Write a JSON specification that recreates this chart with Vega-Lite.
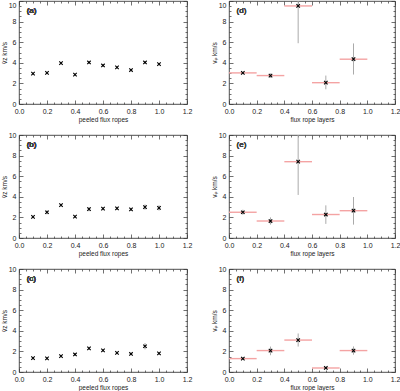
{
  "$schema": "https://vega.github.io/schema/vega-lite/v6.json",
  "padding": {"top": 0, "left": 0, "right": 0, "bottom": 0},
  "bounds": "flush",
  "columns": 2,
  "spacing": {"row": 31, "column": 42},
  "datasets": {
    "a": [
      {"x": 0.1, "y": 2.95, "lo": 2.85, "hi": 3.05},
      {"x": 0.2, "y": 3.02, "lo": 2.92, "hi": 3.12},
      {"x": 0.3, "y": 3.97, "lo": 3.87, "hi": 4.07},
      {"x": 0.4, "y": 2.86, "lo": 2.76, "hi": 2.96},
      {"x": 0.5, "y": 4.03, "lo": 3.93, "hi": 4.13},
      {"x": 0.6, "y": 3.74, "lo": 3.64, "hi": 3.84},
      {"x": 0.7, "y": 3.55, "lo": 3.45, "hi": 3.65},
      {"x": 0.8, "y": 3.3, "lo": 3.2, "hi": 3.4},
      {"x": 0.9, "y": 4.03, "lo": 3.93, "hi": 4.13},
      {"x": 1.0, "y": 3.88, "lo": 3.78, "hi": 3.98}
    ],
    "b": [
      {"x": 0.1, "y": 2.05, "lo": 1.95, "hi": 2.15},
      {"x": 0.2, "y": 2.5, "lo": 2.3, "hi": 2.7},
      {"x": 0.3, "y": 3.2, "lo": 3.08, "hi": 3.32},
      {"x": 0.4, "y": 2.08, "lo": 1.98, "hi": 2.18},
      {"x": 0.5, "y": 2.8, "lo": 2.6, "hi": 3.0},
      {"x": 0.6, "y": 2.85, "lo": 2.7, "hi": 3.0},
      {"x": 0.7, "y": 2.88, "lo": 2.73, "hi": 3.03},
      {"x": 0.8, "y": 2.78, "lo": 2.63, "hi": 2.93},
      {"x": 0.9, "y": 3.0, "lo": 2.75, "hi": 3.25},
      {"x": 1.0, "y": 2.92, "lo": 2.67, "hi": 3.17}
    ],
    "c": [
      {"x": 0.1, "y": 1.35, "lo": 1.25, "hi": 1.45},
      {"x": 0.2, "y": 1.33, "lo": 1.23, "hi": 1.43},
      {"x": 0.3, "y": 1.55, "lo": 1.45, "hi": 1.65},
      {"x": 0.4, "y": 1.7, "lo": 1.58, "hi": 1.82},
      {"x": 0.5, "y": 2.3, "lo": 2.15, "hi": 2.45},
      {"x": 0.6, "y": 2.1, "lo": 1.98, "hi": 2.22},
      {"x": 0.7, "y": 1.85, "lo": 1.75, "hi": 1.95},
      {"x": 0.8, "y": 1.75, "lo": 1.65, "hi": 1.85},
      {"x": 0.9, "y": 2.5, "lo": 2.2, "hi": 2.8},
      {"x": 1.0, "y": 1.8, "lo": 1.7, "hi": 1.9}
    ],
    "d": [
      {"x": 0.1, "y": 3.02, "lo": 2.92, "hi": 3.12, "xlo": 0.0, "xhi": 0.2},
      {"x": 0.3, "y": 2.76, "lo": 2.55, "hi": 2.97, "xlo": 0.2, "xhi": 0.4},
      {"x": 0.5, "y": 9.52, "lo": 5.9, "hi": 10.0, "xlo": 0.4, "xhi": 0.6},
      {"x": 0.7, "y": 2.07, "lo": 1.43, "hi": 2.76, "xlo": 0.6, "xhi": 0.8},
      {"x": 0.9, "y": 4.35, "lo": 2.86, "hi": 5.88, "xlo": 0.8, "xhi": 1.0}
    ],
    "e": [
      {"x": 0.1, "y": 2.5, "lo": 2.25, "hi": 2.75, "xlo": 0.0, "xhi": 0.2},
      {"x": 0.3, "y": 1.65, "lo": 1.3, "hi": 2.0, "xlo": 0.2, "xhi": 0.4},
      {"x": 0.5, "y": 7.41, "lo": 4.18, "hi": 10.0, "xlo": 0.4, "xhi": 0.6},
      {"x": 0.7, "y": 2.28, "lo": 1.37, "hi": 3.17, "xlo": 0.6, "xhi": 0.8},
      {"x": 0.9, "y": 2.65, "lo": 1.3, "hi": 3.98, "xlo": 0.8, "xhi": 1.0}
    ],
    "f": [
      {"x": 0.1, "y": 1.3, "lo": 1.2, "hi": 1.4, "xlo": 0.0, "xhi": 0.2},
      {"x": 0.3, "y": 2.08, "lo": 1.63, "hi": 2.47, "xlo": 0.2, "xhi": 0.4},
      {"x": 0.5, "y": 3.1, "lo": 2.47, "hi": 3.74, "xlo": 0.4, "xhi": 0.6},
      {"x": 0.7, "y": 0.39, "lo": 0.3, "hi": 0.48, "xlo": 0.6, "xhi": 0.8},
      {"x": 0.9, "y": 2.08, "lo": 1.68, "hi": 2.48, "xlo": 0.8, "xhi": 1.0}
    ]
  },
  "concat": [
    {
      "width": 168, "height": 103,
      "data": {"name": "a"},
      "layer": [
        {"mark": {"type": "rule", "color": "#999999", "strokeWidth": 1}, "encoding": {"x": {"field": "x", "type": "quantitative", "scale": {"domain": [0, 1.2], "nice": false, "zero": false}, "axis": null}, "y": {"field": "lo", "type": "quantitative", "scale": {"domain": [0, 10], "nice": false}, "axis": null}, "y2": {"field": "hi"}}},
        {"mark": {"type": "point", "shape": "M-1,-1L1,1M-1,1L1,-1", "filled": false, "stroke": "#000000", "strokeWidth": 1.1, "size": 12, "opacity": 1}, "encoding": {
          "x": {"field": "x", "type": "quantitative", "axis": {"orient": "bottom", "values": [0,0.05,0.1,0.15,0.2,0.25,0.3,0.35,0.4,0.45,0.5,0.55,0.6,0.65,0.7,0.75,0.8,0.85,0.9,0.95,1.0,1.05,1.1,1.15,1.2], "tickSize": {"condition": {"test": "abs(datum.value*5-round(datum.value*5))<0.001", "value": -4}, "value": -2}, "labelExpr": "abs(datum.value*5-round(datum.value*5))<0.001 ? format(datum.value,'.1f') : ''", "title": "peeled flux ropes", "titlePadding": 0, "labelPadding": 7}},
          "y": {"field": "y", "type": "quantitative", "axis": {"orient": "left", "values": [0,0.5,1,1.5,2,2.5,3,3.5,4,4.5,5,5.5,6,6.5,7,7.5,8,8.5,9,9.5,10], "tickSize": {"condition": {"test": "datum.value%2==0", "value": -4}, "value": -2}, "labelExpr": "datum.value%2==0 ? format(datum.value,'d') : ''", "labelBaseline": {"condition": {"test": "datum.value==10", "value": "top"}, "value": "middle"}, "title": "v̄z km/s", "titlePadding": 1, "labelPadding": 7}}}},
        {"mark": {"type": "point", "opacity": 0}, "encoding": {
          "x": {"field": "x", "type": "quantitative", "axis": {"orient": "top", "values": [0,0.05,0.1,0.15,0.2,0.25,0.3,0.35,0.4,0.45,0.5,0.55,0.6,0.65,0.7,0.75,0.8,0.85,0.9,0.95,1.0,1.05,1.1,1.15,1.2], "tickSize": {"condition": {"test": "abs(datum.value*5-round(datum.value*5))<0.001", "value": -4}, "value": -2}, "labels": false, "title": null}},
          "y": {"field": "y", "type": "quantitative", "axis": {"orient": "right", "values": [0,0.5,1,1.5,2,2.5,3,3.5,4,4.5,5,5.5,6,6.5,7,7.5,8,8.5,9,9.5,10], "tickSize": {"condition": {"test": "datum.value%2==0", "value": -4}, "value": -2}, "labels": false, "title": null}}}},
        {"mark": {"type": "text", "align": "left", "baseline": "middle", "fontSize": 8, "color": "#444444"}, "encoding": {"x": {"datum": 0.055, "type": "quantitative", "axis": null}, "y": {"datum": 9.0, "type": "quantitative", "axis": null}, "text": {"value": "(a)"}}}
      ],
      "resolve": {"axis": {"x": "independent", "y": "independent"}}
    },
    {
      "width": 166, "height": 103,
      "data": {"name": "d"},
      "layer": [
        {"mark": {"type": "rule", "color": "#aaaaaa", "strokeWidth": 1}, "encoding": {"x": {"field": "x", "type": "quantitative", "scale": {"domain": [0, 1.2], "nice": false, "zero": false}, "axis": null}, "y": {"field": "lo", "type": "quantitative", "scale": {"domain": [0, 10], "nice": false}, "axis": null}, "y2": {"field": "hi"}}},
        {"mark": {"type": "rule", "color": "#f4a3a3", "strokeWidth": 1.4}, "encoding": {"x": {"field": "xlo", "type": "quantitative", "axis": null}, "x2": {"field": "xhi"}, "y": {"field": "y", "type": "quantitative", "axis": null}}},
        {"mark": {"type": "point", "shape": "M-1,-1L1,1M-1,1L1,-1", "filled": false, "stroke": "#000000", "strokeWidth": 1.1, "size": 12, "opacity": 1}, "encoding": {
          "x": {"field": "x", "type": "quantitative", "axis": {"orient": "bottom", "values": [0,0.05,0.1,0.15,0.2,0.25,0.3,0.35,0.4,0.45,0.5,0.55,0.6,0.65,0.7,0.75,0.8,0.85,0.9,0.95,1.0,1.05,1.1,1.15,1.2], "tickSize": {"condition": {"test": "abs(datum.value*5-round(datum.value*5))<0.001", "value": -4}, "value": -2}, "labelExpr": "abs(datum.value*5-round(datum.value*5))<0.001 ? format(datum.value,'.1f') : ''", "title": "flux rope layers", "titlePadding": 0, "labelPadding": 7}},
          "y": {"field": "y", "type": "quantitative", "axis": {"orient": "left", "values": [0,0.5,1,1.5,2,2.5,3,3.5,4,4.5,5,5.5,6,6.5,7,7.5,8,8.5,9,9.5,10], "tickSize": {"condition": {"test": "datum.value%2==0", "value": -4}, "value": -2}, "labelExpr": "datum.value%2==0 ? format(datum.value,'d') : ''", "labelBaseline": {"condition": {"test": "datum.value==10", "value": "top"}, "value": "middle"}, "title": "vᵩ km/s", "titlePadding": 1, "labelPadding": 7}}}},
        {"mark": {"type": "point", "opacity": 0}, "encoding": {
          "x": {"field": "x", "type": "quantitative", "axis": {"orient": "top", "values": [0,0.05,0.1,0.15,0.2,0.25,0.3,0.35,0.4,0.45,0.5,0.55,0.6,0.65,0.7,0.75,0.8,0.85,0.9,0.95,1.0,1.05,1.1,1.15,1.2], "tickSize": {"condition": {"test": "abs(datum.value*5-round(datum.value*5))<0.001", "value": -4}, "value": -2}, "labels": false, "title": null}},
          "y": {"field": "y", "type": "quantitative", "axis": {"orient": "right", "values": [0,0.5,1,1.5,2,2.5,3,3.5,4,4.5,5,5.5,6,6.5,7,7.5,8,8.5,9,9.5,10], "tickSize": {"condition": {"test": "datum.value%2==0", "value": -4}, "value": -2}, "labels": false, "title": null}}}},
        {"mark": {"type": "text", "align": "left", "baseline": "middle", "fontSize": 8, "color": "#444444"}, "encoding": {"x": {"datum": 0.055, "type": "quantitative", "axis": null}, "y": {"datum": 9.0, "type": "quantitative", "axis": null}, "text": {"value": "(d)"}}}
      ],
      "resolve": {"axis": {"x": "independent", "y": "independent"}}
    },
    {
      "width": 168, "height": 103,
      "data": {"name": "b"},
      "layer": [
        {"mark": {"type": "rule", "color": "#999999", "strokeWidth": 1}, "encoding": {"x": {"field": "x", "type": "quantitative", "scale": {"domain": [0, 1.2], "nice": false, "zero": false}, "axis": null}, "y": {"field": "lo", "type": "quantitative", "scale": {"domain": [0, 10], "nice": false}, "axis": null}, "y2": {"field": "hi"}}},
        {"mark": {"type": "point", "shape": "M-1,-1L1,1M-1,1L1,-1", "filled": false, "stroke": "#000000", "strokeWidth": 1.1, "size": 12, "opacity": 1}, "encoding": {
          "x": {"field": "x", "type": "quantitative", "axis": {"orient": "bottom", "values": [0,0.05,0.1,0.15,0.2,0.25,0.3,0.35,0.4,0.45,0.5,0.55,0.6,0.65,0.7,0.75,0.8,0.85,0.9,0.95,1.0,1.05,1.1,1.15,1.2], "tickSize": {"condition": {"test": "abs(datum.value*5-round(datum.value*5))<0.001", "value": -4}, "value": -2}, "labelExpr": "abs(datum.value*5-round(datum.value*5))<0.001 ? format(datum.value,'.1f') : ''", "title": "peeled flux ropes", "titlePadding": 0, "labelPadding": 7}},
          "y": {"field": "y", "type": "quantitative", "axis": {"orient": "left", "values": [0,0.5,1,1.5,2,2.5,3,3.5,4,4.5,5,5.5,6,6.5,7,7.5,8,8.5,9,9.5,10], "tickSize": {"condition": {"test": "datum.value%2==0", "value": -4}, "value": -2}, "labelExpr": "datum.value%2==0 ? format(datum.value,'d') : ''", "title": "v̄z km/s", "titlePadding": 1, "labelPadding": 7}}}},
        {"mark": {"type": "point", "opacity": 0}, "encoding": {
          "x": {"field": "x", "type": "quantitative", "axis": {"orient": "top", "values": [0,0.05,0.1,0.15,0.2,0.25,0.3,0.35,0.4,0.45,0.5,0.55,0.6,0.65,0.7,0.75,0.8,0.85,0.9,0.95,1.0,1.05,1.1,1.15,1.2], "tickSize": {"condition": {"test": "abs(datum.value*5-round(datum.value*5))<0.001", "value": -4}, "value": -2}, "labels": false, "title": null}},
          "y": {"field": "y", "type": "quantitative", "axis": {"orient": "right", "values": [0,0.5,1,1.5,2,2.5,3,3.5,4,4.5,5,5.5,6,6.5,7,7.5,8,8.5,9,9.5,10], "tickSize": {"condition": {"test": "datum.value%2==0", "value": -4}, "value": -2}, "labels": false, "title": null}}}},
        {"mark": {"type": "text", "align": "left", "baseline": "middle", "fontSize": 8, "color": "#444444"}, "encoding": {"x": {"datum": 0.055, "type": "quantitative", "axis": null}, "y": {"datum": 9.0, "type": "quantitative", "axis": null}, "text": {"value": "(b)"}}}
      ],
      "resolve": {"axis": {"x": "independent", "y": "independent"}}
    },
    {
      "width": 166, "height": 103,
      "data": {"name": "e"},
      "layer": [
        {"mark": {"type": "rule", "color": "#aaaaaa", "strokeWidth": 1}, "encoding": {"x": {"field": "x", "type": "quantitative", "scale": {"domain": [0, 1.2], "nice": false, "zero": false}, "axis": null}, "y": {"field": "lo", "type": "quantitative", "scale": {"domain": [0, 10], "nice": false}, "axis": null}, "y2": {"field": "hi"}}},
        {"mark": {"type": "rule", "color": "#f4a3a3", "strokeWidth": 1.4}, "encoding": {"x": {"field": "xlo", "type": "quantitative", "axis": null}, "x2": {"field": "xhi"}, "y": {"field": "y", "type": "quantitative", "axis": null}}},
        {"mark": {"type": "point", "shape": "M-1,-1L1,1M-1,1L1,-1", "filled": false, "stroke": "#000000", "strokeWidth": 1.1, "size": 12, "opacity": 1}, "encoding": {
          "x": {"field": "x", "type": "quantitative", "axis": {"orient": "bottom", "values": [0,0.05,0.1,0.15,0.2,0.25,0.3,0.35,0.4,0.45,0.5,0.55,0.6,0.65,0.7,0.75,0.8,0.85,0.9,0.95,1.0,1.05,1.1,1.15,1.2], "tickSize": {"condition": {"test": "abs(datum.value*5-round(datum.value*5))<0.001", "value": -4}, "value": -2}, "labelExpr": "abs(datum.value*5-round(datum.value*5))<0.001 ? format(datum.value,'.1f') : ''", "title": "flux rope layers", "titlePadding": 0, "labelPadding": 7}},
          "y": {"field": "y", "type": "quantitative", "axis": {"orient": "left", "values": [0,0.5,1,1.5,2,2.5,3,3.5,4,4.5,5,5.5,6,6.5,7,7.5,8,8.5,9,9.5,10], "tickSize": {"condition": {"test": "datum.value%2==0", "value": -4}, "value": -2}, "labelExpr": "datum.value%2==0 ? format(datum.value,'d') : ''", "title": "vᵩ km/s", "titlePadding": 1, "labelPadding": 7}}}},
        {"mark": {"type": "point", "opacity": 0}, "encoding": {
          "x": {"field": "x", "type": "quantitative", "axis": {"orient": "top", "values": [0,0.05,0.1,0.15,0.2,0.25,0.3,0.35,0.4,0.45,0.5,0.55,0.6,0.65,0.7,0.75,0.8,0.85,0.9,0.95,1.0,1.05,1.1,1.15,1.2], "tickSize": {"condition": {"test": "abs(datum.value*5-round(datum.value*5))<0.001", "value": -4}, "value": -2}, "labels": false, "title": null}},
          "y": {"field": "y", "type": "quantitative", "axis": {"orient": "right", "values": [0,0.5,1,1.5,2,2.5,3,3.5,4,4.5,5,5.5,6,6.5,7,7.5,8,8.5,9,9.5,10], "tickSize": {"condition": {"test": "datum.value%2==0", "value": -4}, "value": -2}, "labels": false, "title": null}}}},
        {"mark": {"type": "text", "align": "left", "baseline": "middle", "fontSize": 8, "color": "#444444"}, "encoding": {"x": {"datum": 0.055, "type": "quantitative", "axis": null}, "y": {"datum": 9.0, "type": "quantitative", "axis": null}, "text": {"value": "(e)"}}}
      ],
      "resolve": {"axis": {"x": "independent", "y": "independent"}}
    },
    {
      "width": 168, "height": 103,
      "data": {"name": "c"},
      "layer": [
        {"mark": {"type": "rule", "color": "#999999", "strokeWidth": 1}, "encoding": {"x": {"field": "x", "type": "quantitative", "scale": {"domain": [0, 1.2], "nice": false, "zero": false}, "axis": null}, "y": {"field": "lo", "type": "quantitative", "scale": {"domain": [0, 10], "nice": false}, "axis": null}, "y2": {"field": "hi"}}},
        {"mark": {"type": "point", "shape": "M-1,-1L1,1M-1,1L1,-1", "filled": false, "stroke": "#000000", "strokeWidth": 1.1, "size": 12, "opacity": 1}, "encoding": {
          "x": {"field": "x", "type": "quantitative", "axis": {"orient": "bottom", "values": [0,0.05,0.1,0.15,0.2,0.25,0.3,0.35,0.4,0.45,0.5,0.55,0.6,0.65,0.7,0.75,0.8,0.85,0.9,0.95,1.0,1.05,1.1,1.15,1.2], "tickSize": {"condition": {"test": "abs(datum.value*5-round(datum.value*5))<0.001", "value": -4}, "value": -2}, "labelExpr": "abs(datum.value*5-round(datum.value*5))<0.001 ? format(datum.value,'.1f') : ''", "title": "peeled flux ropes", "titlePadding": 0, "labelPadding": 7}},
          "y": {"field": "y", "type": "quantitative", "axis": {"orient": "left", "values": [0,0.5,1,1.5,2,2.5,3,3.5,4,4.5,5,5.5,6,6.5,7,7.5,8,8.5,9,9.5,10], "tickSize": {"condition": {"test": "datum.value%2==0", "value": -4}, "value": -2}, "labelExpr": "datum.value%2==0 ? format(datum.value,'d') : ''", "title": "v̄z km/s", "titlePadding": 1, "labelPadding": 7}}}},
        {"mark": {"type": "point", "opacity": 0}, "encoding": {
          "x": {"field": "x", "type": "quantitative", "axis": {"orient": "top", "values": [0,0.05,0.1,0.15,0.2,0.25,0.3,0.35,0.4,0.45,0.5,0.55,0.6,0.65,0.7,0.75,0.8,0.85,0.9,0.95,1.0,1.05,1.1,1.15,1.2], "tickSize": {"condition": {"test": "abs(datum.value*5-round(datum.value*5))<0.001", "value": -4}, "value": -2}, "labels": false, "title": null}},
          "y": {"field": "y", "type": "quantitative", "axis": {"orient": "right", "values": [0,0.5,1,1.5,2,2.5,3,3.5,4,4.5,5,5.5,6,6.5,7,7.5,8,8.5,9,9.5,10], "tickSize": {"condition": {"test": "datum.value%2==0", "value": -4}, "value": -2}, "labels": false, "title": null}}}},
        {"mark": {"type": "text", "align": "left", "baseline": "middle", "fontSize": 8, "color": "#444444"}, "encoding": {"x": {"datum": 0.055, "type": "quantitative", "axis": null}, "y": {"datum": 9.0, "type": "quantitative", "axis": null}, "text": {"value": "(c)"}}}
      ],
      "resolve": {"axis": {"x": "independent", "y": "independent"}}
    },
    {
      "width": 166, "height": 103,
      "data": {"name": "f"},
      "layer": [
        {"mark": {"type": "rule", "color": "#aaaaaa", "strokeWidth": 1}, "encoding": {"x": {"field": "x", "type": "quantitative", "scale": {"domain": [0, 1.2], "nice": false, "zero": false}, "axis": null}, "y": {"field": "lo", "type": "quantitative", "scale": {"domain": [0, 10], "nice": false}, "axis": null}, "y2": {"field": "hi"}}},
        {"mark": {"type": "rule", "color": "#f4a3a3", "strokeWidth": 1.4}, "encoding": {"x": {"field": "xlo", "type": "quantitative", "axis": null}, "x2": {"field": "xhi"}, "y": {"field": "y", "type": "quantitative", "axis": null}}},
        {"mark": {"type": "point", "shape": "M-1,-1L1,1M-1,1L1,-1", "filled": false, "stroke": "#000000", "strokeWidth": 1.1, "size": 12, "opacity": 1}, "encoding": {
          "x": {"field": "x", "type": "quantitative", "axis": {"orient": "bottom", "values": [0,0.05,0.1,0.15,0.2,0.25,0.3,0.35,0.4,0.45,0.5,0.55,0.6,0.65,0.7,0.75,0.8,0.85,0.9,0.95,1.0,1.05,1.1,1.15,1.2], "tickSize": {"condition": {"test": "abs(datum.value*5-round(datum.value*5))<0.001", "value": -4}, "value": -2}, "labelExpr": "abs(datum.value*5-round(datum.value*5))<0.001 ? format(datum.value,'.1f') : ''", "title": "flux rope layers", "titlePadding": 0, "labelPadding": 7}},
          "y": {"field": "y", "type": "quantitative", "axis": {"orient": "left", "values": [0,0.5,1,1.5,2,2.5,3,3.5,4,4.5,5,5.5,6,6.5,7,7.5,8,8.5,9,9.5,10], "tickSize": {"condition": {"test": "datum.value%2==0", "value": -4}, "value": -2}, "labelExpr": "datum.value%2==0 ? format(datum.value,'d') : ''", "title": "vᵩ km/s", "titlePadding": 1, "labelPadding": 7}}}},
        {"mark": {"type": "point", "opacity": 0}, "encoding": {
          "x": {"field": "x", "type": "quantitative", "axis": {"orient": "top", "values": [0,0.05,0.1,0.15,0.2,0.25,0.3,0.35,0.4,0.45,0.5,0.55,0.6,0.65,0.7,0.75,0.8,0.85,0.9,0.95,1.0,1.05,1.1,1.15,1.2], "tickSize": {"condition": {"test": "abs(datum.value*5-round(datum.value*5))<0.001", "value": -4}, "value": -2}, "labels": false, "title": null}},
          "y": {"field": "y", "type": "quantitative", "axis": {"orient": "right", "values": [0,0.5,1,1.5,2,2.5,3,3.5,4,4.5,5,5.5,6,6.5,7,7.5,8,8.5,9,9.5,10], "tickSize": {"condition": {"test": "datum.value%2==0", "value": -4}, "value": -2}, "labels": false, "title": null}}}},
        {"mark": {"type": "text", "align": "left", "baseline": "middle", "fontSize": 8, "color": "#444444"}, "encoding": {"x": {"datum": 0.055, "type": "quantitative", "axis": null}, "y": {"datum": 9.0, "type": "quantitative", "axis": null}, "text": {"value": "(f)"}}}
      ],
      "resolve": {"axis": {"x": "independent", "y": "independent"}}
    }
  ],
  "config": {
    "font": "Liberation Sans",
    "view": {"stroke": "#222222", "strokeWidth": 0.8},
    "axis": {"domain": false, "grid": false, "labelFont": "Liberation Sans", "labelFontSize": 7, "labelColor": "#222222", "titleFont": "Liberation Sans", "titleFontSize": 6.5, "titleFontWeight": "normal", "titleColor": "#222222", "tickColor": "#333333", "tickWidth": 0.7, "labelFlush": false, "labelOverlap": false}
  }
}
